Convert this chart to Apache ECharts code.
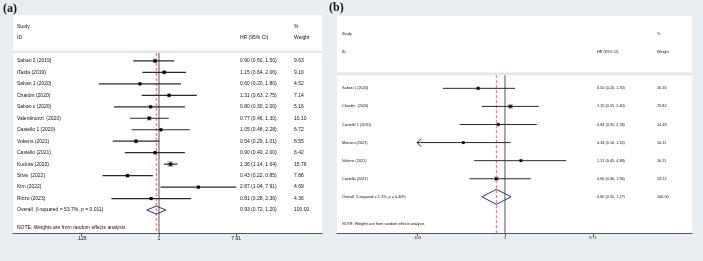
<!DOCTYPE html>
<html>
<head>
<meta charset="utf-8">
<script src="https://cdn.jsdelivr.net/npm/echarts@6/dist/echarts.min.js"></script>
<style>
  html, body { margin: 0; padding: 0; background: #e8eef1; }
  #chart { width: 703px; height: 261px; }
</style>
</head>
<body>
<div id="chart"></div>
<script>
// ---- panel (a) ----
const studiesA = ['Saban 2 (2019)', 'iTaida (2019)', 'Saban 1 (2020)', 'Chardin (2020)', 'Saban c (2020)',
  'Valentinuzzi  (2020)', 'Castello 1 (2020)', 'Vokens (2021)', 'Castello (2021)', 'Kudura (2022)',
  'Silva  (2022)', 'Kim (2022)', 'Rizzo (2023)'];
const hrA = [0.90, 1.15, 0.60, 1.31, 0.80, 0.77, 1.05, 0.54, 0.90, 1.36, 0.43, 2.87, 0.81];
const lowA = [0.50, 0.64, 0.20, 0.63, 0.30, 0.46, 0.48, 0.29, 0.40, 1.14, 0.22, 1.04, 0.28];
const highA = [1.50, 2.06, 1.80, 2.75, 2.00, 1.30, 2.28, 1.01, 2.00, 1.64, 0.85, 7.91, 2.36];
const weightA = [9.63, 9.10, 4.52, 7.14, 5.16, 10.10, 6.72, 8.55, 6.42, 15.76, 7.86, 4.69, 4.36];
const overallA = [0.93, 0.72, 1.20];
const overallLabelA = 'Overall  (I-squared = 53.7%, p = 0.011)';
const ticksA = [0.126, 1, 7.91];
const tickLabelsA = ['.126', '1', '7.91'];

// ---- panel (b) ----
const studiesB = ['Saban 1 (2020)', 'Chardin  (2020)', 'Castello 1 (2020)', 'Monaco (2021)', 'Vokens (2021)', 'Castello (2021)'];
const hrB = [0.50, 1.15, 0.84, 0.34, 1.51, 0.80];
const lowB = [0.20, 0.55, 0.31, 0.10, 0.45, 0.40];
const highB = [1.30, 2.40, 2.28, 1.16, 4.88, 1.96];
const weightB = [16.16, 25.82, 14.48, 10.11, 10.11, 23.22];
const overallB = [0.80, 0.55, 1.17];
const overallLabelB = 'Overall  (I-squared = 1.1%, p = 0.409)';
const ticksB = [0.103, 1, 9.71];
const tickLabelsB = ['.103', '1', '9.71'];

const FONT = '"Liberation Sans", Arial, sans-serif';

const layoutA = {
  grid: { left: 13, right: 381, top: 15, bottom: 28 },
  xMin: 0.02006, xMax: 78.6, yMin: -4, yMax: 15,
  labelX: 17, hrX: 240, wX: 294, font: 5, box: 1.45, dot: 3, lw: 1.2, dH: 4,
  noteY: 14.55
};
const layoutB = {
  grid: { left: 337, right: 11, top: 16, bottom: 28 },
  xMin: 0.01296, xMax: 126.3, yMin: -4, yMax: 8,
  labelX: 342, hrX: 597, wX: 657, font: 3.8, box: 1.0, dot: 2.6, lw: 1, dH: 7.5,
  noteY: 7.5
};

function f2(v) { return v.toFixed(2); }
function ciText(h, l, u) { return f2(h) + ' (' + f2(l) + ', ' + f2(u) + ')'; }

function txt(text, x, y, size) {
  return { type: 'text', style: { text: text, x: x, y: y, fill: '#111', fontSize: size, fontFamily: FONT, align: 'left', verticalAlign: 'middle' } };
}

function frameSeries(idx, p, overall) {
  return {
    type: 'custom', xAxisIndex: idx, yAxisIndex: idx, silent: true,
    data: [[1, 0]],
    renderItem(params, api) {
      const cs = params.coordSys;
      const ySep = api.coord([1, -0.8])[1];
      const yBot = cs.y + cs.height;
      const x1 = api.coord([1, 0])[0];
      const xo = api.coord([overall[0], 0])[0];
      return {
        type: 'group',
        children: [
          txt('Study', p.labelX, api.coord([1, -3])[1], p.font),
          txt('ID', p.labelX, api.coord([1, -2])[1], p.font),
          txt('HR (95% CI)', p.hrX, api.coord([1, -2])[1], p.font),
          txt('%', p.wX, api.coord([1, -3])[1], p.font),
          txt('Weight', p.wX, api.coord([1, -2])[1], p.font),
          txt('NOTE: Weights are from random effects analysis', p.labelX, api.coord([1, p.noteY])[1], p.font),
          { type: 'rect', shape: { x: cs.x, y: ySep - 1.3, width: cs.width, height: 2.6 }, style: { fill: '#e1e7ea' } },
          { type: 'line', shape: { x1: x1, y1: ySep + 1.3, x2: x1, y2: yBot }, style: { stroke: '#555', lineWidth: 1 } },
          { type: 'line', shape: { x1: xo, y1: ySep + 1.3, x2: xo, y2: yBot }, style: { stroke: '#d9464b', lineWidth: 0.8, lineDash: [3, 2] } }
        ]
      };
    }
  };
}

function rowSeries(idx, p, studies, hr, low, high, weight, overall, overallLabel, range) {
  const data = studies.map((s, i) => [hr[i], i, low[i], high[i], weight[i]]);
  data.push([overall[0], studies.length, overall[1], overall[2], 100]);
  return {
    type: 'custom', xAxisIndex: idx, yAxisIndex: idx, silent: true,
    data: data,
    renderItem(params, api) {
      const i = params.dataIndex;
      const isOverall = i === studies.length;
      const h = api.value(0), l = api.value(2), u = api.value(3), w = api.value(4);
      const y = api.coord([1, api.value(1)])[1];
      const xc = api.coord([h, 0])[0];
      const xl = api.coord([Math.max(l, range[0]), 0])[0];
      const xu = api.coord([Math.min(u, range[1]), 0])[0];
      const children = [
        txt(isOverall ? overallLabel : studies[i], p.labelX, y, p.font),
        txt(ciText(h, l, u), p.hrX, y, p.font),
        txt(f2(w), p.wX, y, p.font)
      ];
      if (isOverall) {
        children.push({
          type: 'polygon',
          shape: { points: [[xl, y], [xc, y - p.dH], [xu, y], [xc, y + p.dH]] },
          style: { fill: 'none', stroke: '#2f2f95', lineWidth: 1 }
        });
      } else {
        const b = p.box * Math.sqrt(w);
        children.push({ type: 'rect', shape: { x: xc - b / 2, y: y - b / 2, width: b, height: b }, style: { fill: '#b5b5b5' } });
        children.push({ type: 'line', shape: { x1: xl, y1: y, x2: xu, y2: y }, style: { stroke: '#2a2a2a', lineWidth: p.lw } });
        children.push({ type: 'rect', shape: { x: xc - p.dot / 2, y: y - p.dot / 2, width: p.dot, height: p.dot }, style: { fill: '#000' } });
        if (l < range[0]) {
          children.push({ type: 'polyline', shape: { points: [[xl + 4, y - 4], [xl, y], [xl + 4, y + 4]] }, style: { stroke: '#2a2a2a', lineWidth: p.lw, fill: 'none' } });
        }
      }
      return { type: 'group', children: children };
    }
  };
}

function xAxisOf(idx, p, ticks, labels) {
  return {
    type: 'log', gridIndex: idx, min: p.xMin, max: p.xMax,
    axisLine: { show: true, onZero: false, lineStyle: { color: '#555', width: 1.2 } },
    axisTick: { show: true, customValues: ticks, length: 3, lineStyle: { color: '#555', width: 1 } },
    axisLabel: {
      customValues: ticks, margin: 3, fontSize: p.font, fontFamily: FONT, color: '#111',
      formatter: v => {
        let best = 0;
        ticks.forEach((t, k) => { if (Math.abs(Math.log(t / v)) < Math.abs(Math.log(ticks[best] / v))) best = k; });
        return labels[best];
      }
    },
    splitLine: { show: false }
  };
}

function yAxisOf(idx, p) {
  return { type: 'value', gridIndex: idx, inverse: true, min: p.yMin, max: p.yMax, show: false };
}

const chart = echarts.init(document.getElementById('chart'), null, { renderer: 'canvas' });
chart.setOption({
  backgroundColor: '#e8eef1',
  animation: false,
  graphic: [
    { type: 'text', left: 3, top: 3, style: { text: '(a)', fontSize: 12, fontWeight: 'bold', fontFamily: '"Liberation Serif", serif', fill: '#111' } },
    { type: 'text', left: 329, top: 2, style: { text: '(b)', fontSize: 12, fontWeight: 'bold', fontFamily: '"Liberation Serif", serif', fill: '#111' } }
  ],
  grid: [
    Object.assign({ show: true, backgroundColor: '#fff', borderWidth: 0 }, layoutA.grid),
    Object.assign({ show: true, backgroundColor: '#fff', borderWidth: 0 }, layoutB.grid)
  ],
  xAxis: [xAxisOf(0, layoutA, ticksA, tickLabelsA), xAxisOf(1, layoutB, ticksB, tickLabelsB)],
  yAxis: [yAxisOf(0, layoutA), yAxisOf(1, layoutB)],
  series: [
    frameSeries(0, layoutA, overallA),
    rowSeries(0, layoutA, studiesA, hrA, lowA, highA, weightA, overallA, overallLabelA, [ticksA[0], ticksA[2]]),
    frameSeries(1, layoutB, overallB),
    rowSeries(1, layoutB, studiesB, hrB, lowB, highB, weightB, overallB, overallLabelB, [ticksB[0], ticksB[2]])
  ]
});
</script>
</body>
</html>
